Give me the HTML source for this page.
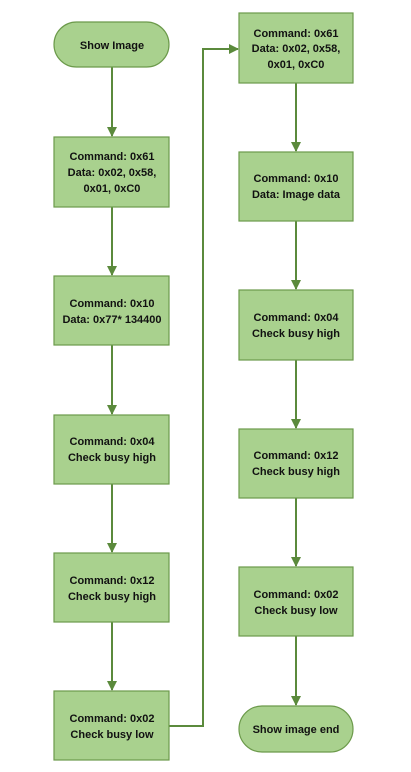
<!DOCTYPE html>
<html><head><style>body{margin:0;background:#fff}svg{display:block}</style></head><body>
<svg width="411" height="772" xmlns="http://www.w3.org/2000/svg" font-family="Liberation Sans, sans-serif" font-weight="bold" font-size="11" fill="#111">
<defs><marker id="a" markerWidth="10" markerHeight="10" refX="9" refY="5" orient="auto" markerUnits="userSpaceOnUse"><path d="M0,0 L10,5 L0,10 Z" fill="#5b8a3c"/></marker></defs>
<g stroke="#5b8a3c" stroke-width="2" fill="none">
<line x1="112" y1="67" x2="112" y2="136" marker-end="url(#a)"/>
<line x1="112" y1="207" x2="112" y2="275" marker-end="url(#a)"/>
<line x1="112" y1="345" x2="112" y2="414" marker-end="url(#a)"/>
<line x1="112" y1="484" x2="112" y2="552" marker-end="url(#a)"/>
<line x1="112" y1="622" x2="112" y2="690" marker-end="url(#a)"/>
<polyline points="169,726 203,726 203,49 238,49" marker-end="url(#a)"/>
<line x1="296" y1="83" x2="296" y2="151" marker-end="url(#a)"/>
<line x1="296" y1="221" x2="296" y2="289" marker-end="url(#a)"/>
<line x1="296" y1="360" x2="296" y2="428" marker-end="url(#a)"/>
<line x1="296" y1="498" x2="296" y2="566" marker-end="url(#a)"/>
<line x1="296" y1="636" x2="296" y2="705" marker-end="url(#a)"/>
</g>
<g fill="#a9d18e" stroke="#6c9a4b" stroke-width="1.2">
<rect x="54" y="22" width="115" height="45" rx="22.5"/>
<rect x="54" y="137" width="115" height="70"/>
<rect x="54" y="276" width="115" height="69"/>
<rect x="54" y="415" width="115" height="69"/>
<rect x="54" y="553" width="115" height="69"/>
<rect x="54" y="691" width="115" height="69"/>
<rect x="239" y="13" width="114" height="70"/>
<rect x="239" y="152" width="114" height="69"/>
<rect x="239" y="290" width="114" height="70"/>
<rect x="239" y="429" width="114" height="69"/>
<rect x="239" y="567" width="114" height="69"/>
<rect x="239" y="706" width="114" height="46" rx="23"/>
</g>
<g text-anchor="middle">
<text x="112" y="49">Show Image</text>
<text x="112" y="160">Command: 0x61</text><text x="112" y="176">Data: 0x02, 0x58,</text><text x="112" y="192">0x01, 0xC0</text>
<text x="112" y="307">Command: 0x10</text><text x="112" y="323">Data: 0x77* 134400</text>
<text x="112" y="445">Command: 0x04</text><text x="112" y="461">Check busy high</text>
<text x="112" y="584">Command: 0x12</text><text x="112" y="600">Check busy high</text>
<text x="112" y="722">Command: 0x02</text><text x="112" y="738">Check busy low</text>
<text x="296" y="37">Command: 0x61</text><text x="296" y="52">Data: 0x02, 0x58,</text><text x="296" y="68">0x01, 0xC0</text>
<text x="296" y="182">Command: 0x10</text><text x="296" y="198">Data: Image data</text>
<text x="296" y="321">Command: 0x04</text><text x="296" y="337">Check busy high</text>
<text x="296" y="459">Command: 0x12</text><text x="296" y="475">Check busy high</text>
<text x="296" y="598">Command: 0x02</text><text x="296" y="614">Check busy low</text>
<text x="296" y="733">Show image end</text>
</g>
</svg>
</body></html>
